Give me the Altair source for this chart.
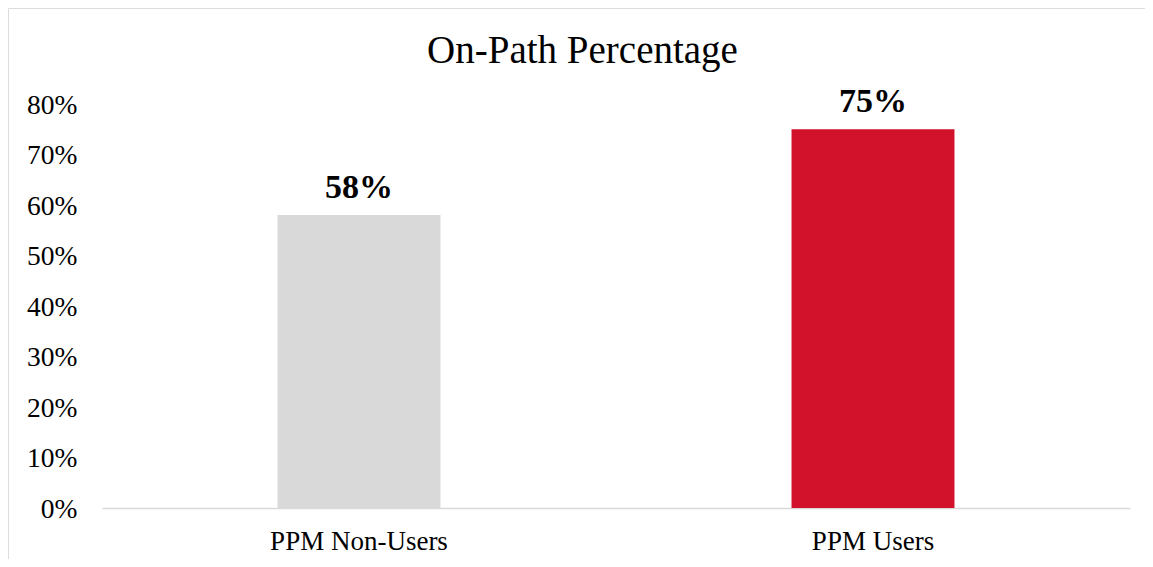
import altair as alt
import pandas as pd

categories = ["PPM Non-Users", "PPM Users"]
values = [0.58, 0.75]
bar_colors = ["#D9D9D9", "#D2122B"]
y_ticks = [0.0, 0.1, 0.2, 0.3, 0.4, 0.5, 0.6, 0.7, 0.8]

df = pd.DataFrame({"group": categories, "value": values})

W = 1137
H = 551
FONT = "Liberation Serif"

# plot-area coordinates (the whole chart area acts as the framed chart box)
X0, X1 = 94, 1122   # category axis extent
Y0, Y1 = 500, 96    # 0% .. 80%

x_enc = alt.X(
    "group:N",
    sort=categories,
    title="",
    scale=alt.Scale(range=[X0, X1], paddingInner=0.683, paddingOuter=0.3415),
    axis=alt.Axis(
        orient="bottom",
        offset=Y0 - H,
        domainColor="#D9D9D9",
        domainWidth=1.5,
        ticks=False,
        labelAngle=0,
        labelFont=FONT,
        labelFontSize=27,
        labelColor="#000000",
        labelBaseline="alphabetic",
        labelPadding=41,
    ),
)

y_enc = alt.Y(
    "value:Q",
    title="",
    scale=alt.Scale(domain=[0, 0.8], range=[Y0, Y1], nice=False, zero=True),
    axis=alt.Axis(
        orient="left",
        offset=-X0,
        values=y_ticks,
        format=".0%",
        domain=False,
        ticks=False,
        grid=False,
        labelFont=FONT,
        labelFontSize=27.5,
        labelColor="#000000",
        labelPadding=25,
        labelBaseline="middle",
        labelOffset=1,
    ),
)

bars = alt.Chart(df).mark_bar().encode(
    x=x_enc,
    y=y_enc,
    color=alt.Color("group:N", scale=alt.Scale(domain=categories, range=bar_colors), legend=None),
)

labels = alt.Chart(df).mark_text(
    font=FONT, fontSize=34, fontWeight="bold", color="#000000",
    baseline="alphabetic", dy=-17,
).encode(
    x=alt.X("group:N", sort=categories),
    y=alt.Y("value:Q"),
    text=alt.Text("value:Q", format=".0%"),
)

chart = (
    alt.layer(bars, labels)
    .properties(
        width=W,
        height=H,
        padding=0,
        title=alt.TitleParams(
            "On-Path Percentage",
            font=FONT,
            fontSize=39,
            fontWeight="normal",
            color="#000000",
            anchor="middle",
            frame="group",
            baseline="alphabetic",
            offset=-94,
            dx=6,
        ),
    )
    # only the top and left edges of the frame are drawn (top, gap over right+bottom, left)
    .configure_view(stroke="#D9D9D9", strokeWidth=1.2, strokeDash=[W, W + H, H, 0])
    .configure(background="#FFFFFF")
)

chart.save("out.html", embed_options={"renderer": "svg", "actions": False})
